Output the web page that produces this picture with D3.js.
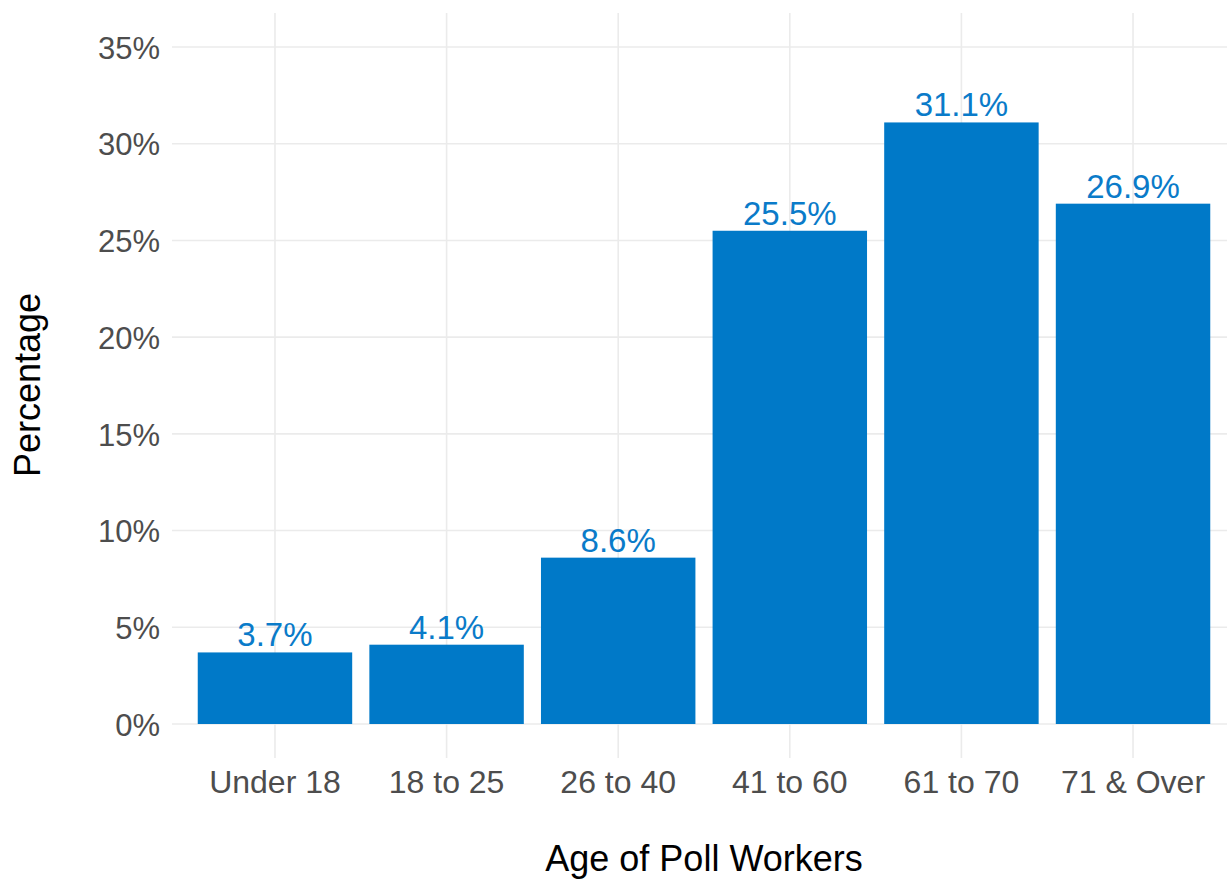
<!DOCTYPE html>
<html>
<head>
<meta charset="utf-8">
<script src="https://cdn.jsdelivr.net/npm/d3@7"></script>
<style>
  body { margin: 0; background: #fff; }
  text { font-family: "Liberation Sans", Arial, sans-serif; }
</style>
</head>
<body>
<div id="chart"></div>
<script>
const ageGroups = ["Under 18", "18 to 25", "26 to 40", "41 to 60", "61 to 70", "71 & Over"];
const shares = [3.7, 4.1, 8.6, 25.5, 31.1, 26.9];
const yTicks = [0, 5, 10, 15, 20, 25, 30, 35];

const width = 1227;
const height = 881;

// panel box (ggplot style, right side runs off the canvas)
const panel = { left: 172, right: 1236, top: 13, bottom: 758 };

const svg = d3
  .select("#chart")
  .append("svg")
  .attr("width", width)
  .attr("height", height);

const x = d3
  .scaleBand()
  .domain(ageGroups)
  .range([panel.left, panel.right])
  .paddingInner(0.1)
  .paddingOuter(0.15);

// 0% sits at 724, 35% at 47
const y = d3.scaleLinear().domain([0, 35]).range([724, 47]);

const grid = "#ebebeb";

// horizontal grid
svg
  .append("g")
  .selectAll("line")
  .data(yTicks)
  .join("line")
  .attr("x1", panel.left)
  .attr("x2", panel.right)
  .attr("y1", (d) => y(d))
  .attr("y2", (d) => y(d))
  .attr("stroke", grid)
  .attr("stroke-width", 1.6);

// vertical grid
svg
  .append("g")
  .selectAll("line")
  .data(ageGroups)
  .join("line")
  .attr("x1", (d) => x(d) + x.bandwidth() / 2)
  .attr("x2", (d) => x(d) + x.bandwidth() / 2)
  .attr("y1", panel.top)
  .attr("y2", panel.bottom)
  .attr("stroke", grid)
  .attr("stroke-width", 1.6);

// bars
svg
  .append("g")
  .selectAll("rect")
  .data(shares)
  .join("rect")
  .attr("x", (d, i) => x(ageGroups[i]))
  .attr("y", (d) => y(d))
  .attr("width", x.bandwidth())
  .attr("height", (d) => y(0) - y(d))
  .attr("fill", "#0079c8");

// value labels
svg
  .append("g")
  .selectAll("text")
  .data(shares)
  .join("text")
  .attr("x", (d, i) => x(ageGroups[i]) + x.bandwidth() / 2)
  .attr("y", (d) => y(d) - 6)
  .attr("text-anchor", "middle")
  .attr("fill", "#0a7bc9")
  .style("font-size", "33px")
  .text((d) => d3.format(".1f")(d) + "%");

// y axis
const yAxis = svg
  .append("g")
  .attr("transform", `translate(${panel.left},0)`)
  .call(d3.axisLeft(y).tickValues(yTicks).tickSize(0).tickPadding(12).tickFormat((d) => d + "%"));
yAxis.select(".domain").remove();
yAxis
  .selectAll("text")
  .attr("fill", "#4d4d4d")
  .attr("dy", "0.36em")
  .style("font-size", "31px")
  .style("font-family", "Liberation Sans, Arial, sans-serif");

// x axis
const xAxis = svg
  .append("g")
  .attr("transform", `translate(0,${panel.bottom})`)
  .call(d3.axisBottom(x).tickSize(0).tickPadding(0));
xAxis.select(".domain").remove();
xAxis
  .selectAll("text")
  .attr("fill", "#4d4d4d")
  .attr("dy", 0)
  .attr("y", 35)
  .style("font-size", "32px")
  .style("font-family", "Liberation Sans, Arial, sans-serif");

// axis titles
svg
  .append("text")
  .attr("x", (panel.left + panel.right) / 2)
  .attr("y", 871)
  .attr("text-anchor", "middle")
  .attr("fill", "#000")
  .style("font-size", "36px")
  .text("Age of Poll Workers");

svg
  .append("text")
  .attr("transform", "translate(40,385)rotate(-90)")
  .attr("text-anchor", "middle")
  .attr("fill", "#000")
  .style("font-size", "36px")
  .text("Percentage");
</script>
</body>
</html>
